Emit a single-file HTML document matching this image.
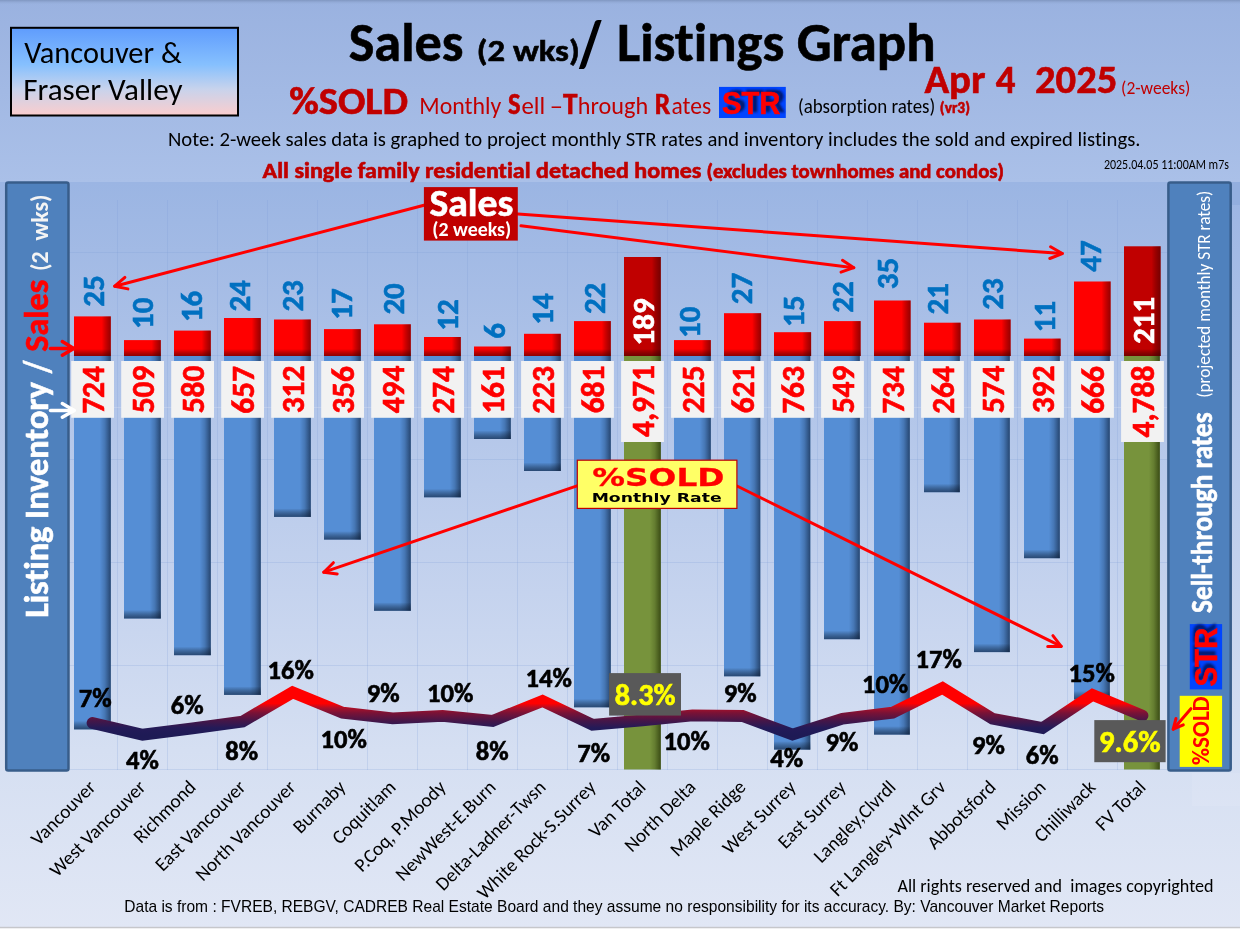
<!DOCTYPE html>
<html><head><meta charset="utf-8"><title>Sales / Listings Graph</title>
<style>
html,body{margin:0;padding:0;width:1240px;height:929px;overflow:hidden;background:#c4d2ee;}
svg{display:block;position:absolute;left:0;top:0;will-change:transform}
text{font-family:Carlito,'Liberation Sans',sans-serif;font-variant-ligatures:none;font-feature-settings:'liga' 0,'clig' 0;}
.ar{font-family:'Liberation Sans',Arial,sans-serif;}
.vd{font-family:'DejaVu Sans','Liberation Sans',sans-serif;}
</style></head><body>
<svg width="1240" height="929" viewBox="0 0 1240 929">
<defs>
<linearGradient id="bgTop" x1="0" y1="0" x2="0" y2="1"><stop offset="0" stop-color="#9ab2e0"/><stop offset="1" stop-color="#aac0e8"/></linearGradient>
<linearGradient id="bgPlot" x1="0" y1="0" x2="0" y2="1"><stop offset="0" stop-color="#9bb5e3"/><stop offset="0.55" stop-color="#c5d3ee"/><stop offset="0.76" stop-color="#d5dff2"/><stop offset="1" stop-color="#e1e7f5"/></linearGradient><linearGradient id="topEdge" x1="0" y1="0" x2="0" y2="1"><stop offset="0" stop-color="#7f96c0"/><stop offset="1" stop-color="#9ab2e0" stop-opacity="0"/></linearGradient>
<linearGradient id="vbox" x1="0" y1="0" x2="0" y2="1"><stop offset="0" stop-color="#5f9cfd"/><stop offset="0.42" stop-color="#86c0fe"/><stop offset="0.7" stop-color="#c8d3ec"/><stop offset="1" stop-color="#fbcdcd"/></linearGradient>
<linearGradient id="shR" x1="0" y1="0" x2="1" y2="0"><stop offset="0" stop-color="#0a1a33" stop-opacity="0"/><stop offset="0.45" stop-color="#0a1a33" stop-opacity="0.2"/><stop offset="1" stop-color="#0a1a33" stop-opacity="0.62"/></linearGradient>
<linearGradient id="shG" x1="0" y1="0" x2="1" y2="0"><stop offset="0" stop-color="#1a2600" stop-opacity="0"/><stop offset="0.45" stop-color="#1a2600" stop-opacity="0.2"/><stop offset="1" stop-color="#1a2600" stop-opacity="0.65"/></linearGradient>
<linearGradient id="shB" x1="0" y1="0" x2="0" y2="1"><stop offset="0" stop-color="#000" stop-opacity="0"/><stop offset="1" stop-color="#0a1a33" stop-opacity="0.6"/></linearGradient>
<linearGradient id="shRr" x1="0" y1="0" x2="1" y2="0"><stop offset="0" stop-color="#000" stop-opacity="0"/><stop offset="1" stop-color="#300000" stop-opacity="0.5"/></linearGradient>
<linearGradient id="shBr" x1="0" y1="0" x2="0" y2="1"><stop offset="0" stop-color="#000" stop-opacity="0"/><stop offset="1" stop-color="#300000" stop-opacity="0.55"/></linearGradient>
<linearGradient id="lineG" gradientUnits="userSpaceOnUse" x1="0" y1="688" x2="0" y2="735"><stop offset="0" stop-color="#ff0000"/><stop offset="0.33" stop-color="#ff0000"/><stop offset="0.43" stop-color="#a8102a"/><stop offset="0.53" stop-color="#7a1236"/><stop offset="0.7" stop-color="#451648"/><stop offset="0.85" stop-color="#231a58"/><stop offset="1" stop-color="#1e1a55"/></linearGradient>
<filter id="blur1" x="-20%" y="-20%" width="140%" height="140%"><feGaussianBlur stdDeviation="1"/></filter>
</defs>

<rect x="0" y="0" width="1240" height="182" fill="url(#bgTop)"/>
<rect x="0" y="182" width="1240" height="747" fill="url(#bgPlot)"/>
<rect x="0" y="0" width="1240" height="5" fill="url(#topEdge)"/>
<rect x="1232" y="182" width="8" height="23" fill="#93afdf"/>
<rect x="1192" y="773" width="48" height="33" fill="#ffffff" fill-opacity="0.08"/>
<rect x="0" y="926.8" width="1240" height="1.2" fill="#c6c7cb"/><rect x="0" y="928" width="1240" height="1" fill="#efeff1"/>
<g stroke="#7c9ad6" stroke-opacity="0.22" stroke-width="1"><line x1="117.5" y1="200" x2="117.5" y2="770"/><line x1="167.5" y1="200" x2="167.5" y2="770"/><line x1="217.5" y1="200" x2="217.5" y2="770"/><line x1="267.5" y1="200" x2="267.5" y2="770"/><line x1="317.5" y1="200" x2="317.5" y2="770"/><line x1="367.5" y1="200" x2="367.5" y2="770"/><line x1="417.5" y1="200" x2="417.5" y2="770"/><line x1="467.5" y1="200" x2="467.5" y2="770"/><line x1="517.5" y1="200" x2="517.5" y2="770"/><line x1="567.5" y1="200" x2="567.5" y2="770"/><line x1="617.5" y1="200" x2="617.5" y2="770"/><line x1="667.5" y1="200" x2="667.5" y2="770"/><line x1="717.5" y1="200" x2="717.5" y2="770"/><line x1="767.5" y1="200" x2="767.5" y2="770"/><line x1="817.5" y1="200" x2="817.5" y2="770"/><line x1="867.5" y1="200" x2="867.5" y2="770"/><line x1="917.5" y1="200" x2="917.5" y2="770"/><line x1="967.5" y1="200" x2="967.5" y2="770"/><line x1="1017.5" y1="200" x2="1017.5" y2="770"/><line x1="1067.5" y1="200" x2="1067.5" y2="770"/><line x1="1117.5" y1="200" x2="1117.5" y2="770"/><line x1="68" y1="252.5" x2="1168" y2="252.5"/><line x1="68" y1="355.5" x2="1168" y2="355.5"/><line x1="68" y1="459.5" x2="1168" y2="459.5"/><line x1="68" y1="562.5" x2="1168" y2="562.5"/><line x1="68" y1="665.5" x2="1168" y2="665.5"/><line x1="68" y1="769.5" x2="1168" y2="769.5"/></g>
<line x1="68" y1="407.5" x2="1168" y2="407.5" stroke="#dde6f6" stroke-opacity="0.3" stroke-width="1"/>
<rect x="74.0" y="356.0" width="36.8" height="373.4" fill="#558ed5"/><rect x="99.8" y="356.0" width="11" height="373.4" fill="url(#shR)"/><rect x="74.0" y="720.9" width="36.8" height="8.5" fill="url(#shB)"/>
<rect x="124.0" y="356.0" width="36.8" height="262.5" fill="#558ed5"/><rect x="149.8" y="356.0" width="11" height="262.5" fill="url(#shR)"/><rect x="124.0" y="610.0" width="36.8" height="8.5" fill="url(#shB)"/>
<rect x="174.0" y="356.0" width="36.8" height="299.2" fill="#558ed5"/><rect x="199.8" y="356.0" width="11" height="299.2" fill="url(#shR)"/><rect x="174.0" y="646.7" width="36.8" height="8.5" fill="url(#shB)"/>
<rect x="224.0" y="356.0" width="36.8" height="338.9" fill="#558ed5"/><rect x="249.8" y="356.0" width="11" height="338.9" fill="url(#shR)"/><rect x="224.0" y="686.4" width="36.8" height="8.5" fill="url(#shB)"/>
<rect x="274.0" y="356.0" width="36.8" height="160.9" fill="#558ed5"/><rect x="299.8" y="356.0" width="11" height="160.9" fill="url(#shR)"/><rect x="274.0" y="508.4" width="36.8" height="8.5" fill="url(#shB)"/>
<rect x="324.0" y="356.0" width="36.8" height="183.6" fill="#558ed5"/><rect x="349.8" y="356.0" width="11" height="183.6" fill="url(#shR)"/><rect x="324.0" y="531.1" width="36.8" height="8.5" fill="url(#shB)"/>
<rect x="374.0" y="356.0" width="36.8" height="254.8" fill="#558ed5"/><rect x="399.8" y="356.0" width="11" height="254.8" fill="url(#shR)"/><rect x="374.0" y="602.3" width="36.8" height="8.5" fill="url(#shB)"/>
<rect x="424.0" y="356.0" width="36.8" height="141.3" fill="#558ed5"/><rect x="449.8" y="356.0" width="11" height="141.3" fill="url(#shR)"/><rect x="424.0" y="488.8" width="36.8" height="8.5" fill="url(#shB)"/>
<rect x="474.0" y="356.0" width="36.8" height="83.0" fill="#558ed5"/><rect x="499.8" y="356.0" width="11" height="83.0" fill="url(#shR)"/><rect x="474.0" y="430.5" width="36.8" height="8.5" fill="url(#shB)"/>
<rect x="524.0" y="356.0" width="36.8" height="115.0" fill="#558ed5"/><rect x="549.8" y="356.0" width="11" height="115.0" fill="url(#shR)"/><rect x="524.0" y="462.5" width="36.8" height="8.5" fill="url(#shB)"/>
<rect x="574.0" y="356.0" width="36.8" height="351.3" fill="#558ed5"/><rect x="599.8" y="356.0" width="11" height="351.3" fill="url(#shR)"/><rect x="574.0" y="698.8" width="36.8" height="8.5" fill="url(#shB)"/>
<rect x="624.0" y="356.0" width="36.8" height="413.5" fill="#77933c"/><rect x="649.8" y="356.0" width="11" height="413.5" fill="url(#shG)"/>
<rect x="674.0" y="356.0" width="36.8" height="116.1" fill="#558ed5"/><rect x="699.8" y="356.0" width="11" height="116.1" fill="url(#shR)"/><rect x="674.0" y="463.6" width="36.8" height="8.5" fill="url(#shB)"/>
<rect x="724.0" y="356.0" width="36.3" height="320.3" fill="#558ed5"/><rect x="749.3" y="356.0" width="11" height="320.3" fill="url(#shR)"/><rect x="724.0" y="667.8" width="36.3" height="8.5" fill="url(#shB)"/>
<rect x="774.0" y="356.0" width="36.3" height="393.6" fill="#558ed5"/><rect x="799.3" y="356.0" width="11" height="393.6" fill="url(#shR)"/><rect x="774.0" y="741.1" width="36.3" height="8.5" fill="url(#shB)"/>
<rect x="824.0" y="356.0" width="35.8" height="283.2" fill="#558ed5"/><rect x="848.8" y="356.0" width="11" height="283.2" fill="url(#shR)"/><rect x="824.0" y="630.7" width="35.8" height="8.5" fill="url(#shB)"/>
<rect x="874.0" y="356.0" width="35.8" height="378.6" fill="#558ed5"/><rect x="898.8" y="356.0" width="11" height="378.6" fill="url(#shR)"/><rect x="874.0" y="726.1" width="35.8" height="8.5" fill="url(#shB)"/>
<rect x="924.0" y="356.0" width="35.8" height="136.2" fill="#558ed5"/><rect x="948.8" y="356.0" width="11" height="136.2" fill="url(#shR)"/><rect x="924.0" y="483.7" width="35.8" height="8.5" fill="url(#shB)"/>
<rect x="974.0" y="356.0" width="35.8" height="296.1" fill="#558ed5"/><rect x="998.8" y="356.0" width="11" height="296.1" fill="url(#shR)"/><rect x="974.0" y="643.6" width="35.8" height="8.5" fill="url(#shB)"/>
<rect x="1024.0" y="356.0" width="35.8" height="202.2" fill="#558ed5"/><rect x="1048.8" y="356.0" width="11" height="202.2" fill="url(#shR)"/><rect x="1024.0" y="549.7" width="35.8" height="8.5" fill="url(#shB)"/>
<rect x="1074.0" y="356.0" width="35.8" height="343.5" fill="#558ed5"/><rect x="1098.8" y="356.0" width="11" height="343.5" fill="url(#shR)"/><rect x="1074.0" y="691.0" width="35.8" height="8.5" fill="url(#shB)"/>
<rect x="1124.0" y="356.0" width="35.8" height="413.5" fill="#77933c"/><rect x="1148.8" y="356.0" width="11" height="413.5" fill="url(#shG)"/>
<rect x="74.0" y="316.4" width="36.8" height="39.6" fill="#ff0000"/><rect x="101.8" y="316.4" width="9" height="39.6" fill="url(#shRr)"/><rect x="74.0" y="349.0" width="36.8" height="7" fill="url(#shBr)"/>
<rect x="124.0" y="340.1" width="36.8" height="15.9" fill="#ff0000"/><rect x="151.8" y="340.1" width="9" height="15.9" fill="url(#shRr)"/><rect x="124.0" y="349.0" width="36.8" height="7" fill="url(#shBr)"/>
<rect x="174.0" y="330.6" width="36.8" height="25.4" fill="#ff0000"/><rect x="201.8" y="330.6" width="9" height="25.4" fill="url(#shRr)"/><rect x="174.0" y="349.0" width="36.8" height="7" fill="url(#shBr)"/>
<rect x="224.0" y="318.0" width="36.8" height="38.0" fill="#ff0000"/><rect x="251.8" y="318.0" width="9" height="38.0" fill="url(#shRr)"/><rect x="224.0" y="349.0" width="36.8" height="7" fill="url(#shBr)"/>
<rect x="274.0" y="319.5" width="36.8" height="36.5" fill="#ff0000"/><rect x="301.8" y="319.5" width="9" height="36.5" fill="url(#shRr)"/><rect x="274.0" y="349.0" width="36.8" height="7" fill="url(#shBr)"/>
<rect x="324.0" y="329.1" width="36.8" height="26.9" fill="#ff0000"/><rect x="351.8" y="329.1" width="9" height="26.9" fill="url(#shRr)"/><rect x="324.0" y="349.0" width="36.8" height="7" fill="url(#shBr)"/>
<rect x="374.0" y="324.3" width="36.8" height="31.7" fill="#ff0000"/><rect x="401.8" y="324.3" width="9" height="31.7" fill="url(#shRr)"/><rect x="374.0" y="349.0" width="36.8" height="7" fill="url(#shBr)"/>
<rect x="424.0" y="337.0" width="36.8" height="19.0" fill="#ff0000"/><rect x="451.8" y="337.0" width="9" height="19.0" fill="url(#shRr)"/><rect x="424.0" y="349.0" width="36.8" height="7" fill="url(#shBr)"/>
<rect x="474.0" y="346.5" width="36.8" height="9.5" fill="#ff0000"/><rect x="501.8" y="346.5" width="9" height="9.5" fill="url(#shRr)"/><rect x="474.0" y="349.0" width="36.8" height="7" fill="url(#shBr)"/>
<rect x="524.0" y="333.8" width="36.8" height="22.2" fill="#ff0000"/><rect x="551.8" y="333.8" width="9" height="22.2" fill="url(#shRr)"/><rect x="524.0" y="349.0" width="36.8" height="7" fill="url(#shBr)"/>
<rect x="574.0" y="321.1" width="36.8" height="34.9" fill="#ff0000"/><rect x="601.8" y="321.1" width="9" height="34.9" fill="url(#shRr)"/><rect x="574.0" y="349.0" width="36.8" height="7" fill="url(#shBr)"/>
<rect x="624.0" y="257.0" width="36.8" height="99.0" fill="#c00000"/><rect x="651.8" y="257.0" width="9" height="99.0" fill="url(#shRr)"/><rect x="624.0" y="349.0" width="36.8" height="7" fill="url(#shBr)"/>
<rect x="674.0" y="340.1" width="36.8" height="15.9" fill="#ff0000"/><rect x="701.8" y="340.1" width="9" height="15.9" fill="url(#shRr)"/><rect x="674.0" y="349.0" width="36.8" height="7" fill="url(#shBr)"/>
<rect x="724.0" y="313.2" width="37.1" height="42.8" fill="#ff0000"/><rect x="752.1" y="313.2" width="9" height="42.8" fill="url(#shRr)"/><rect x="724.0" y="349.0" width="37.1" height="7" fill="url(#shBr)"/>
<rect x="774.0" y="332.2" width="37.1" height="23.8" fill="#ff0000"/><rect x="802.1" y="332.2" width="9" height="23.8" fill="url(#shRr)"/><rect x="774.0" y="349.0" width="37.1" height="7" fill="url(#shBr)"/>
<rect x="824.0" y="321.1" width="36.6" height="34.9" fill="#ff0000"/><rect x="851.6" y="321.1" width="9" height="34.9" fill="url(#shRr)"/><rect x="824.0" y="349.0" width="36.6" height="7" fill="url(#shBr)"/>
<rect x="874.0" y="300.5" width="36.6" height="55.5" fill="#ff0000"/><rect x="901.6" y="300.5" width="9" height="55.5" fill="url(#shRr)"/><rect x="874.0" y="349.0" width="36.6" height="7" fill="url(#shBr)"/>
<rect x="924.0" y="322.7" width="36.6" height="33.3" fill="#ff0000"/><rect x="951.6" y="322.7" width="9" height="33.3" fill="url(#shRr)"/><rect x="924.0" y="349.0" width="36.6" height="7" fill="url(#shBr)"/>
<rect x="974.0" y="319.5" width="36.6" height="36.5" fill="#ff0000"/><rect x="1001.6" y="319.5" width="9" height="36.5" fill="url(#shRr)"/><rect x="974.0" y="349.0" width="36.6" height="7" fill="url(#shBr)"/>
<rect x="1024.0" y="338.6" width="36.6" height="17.4" fill="#ff0000"/><rect x="1051.6" y="338.6" width="9" height="17.4" fill="url(#shRr)"/><rect x="1024.0" y="349.0" width="36.6" height="7" fill="url(#shBr)"/>
<rect x="1074.0" y="281.5" width="36.6" height="74.5" fill="#ff0000"/><rect x="1101.6" y="281.5" width="9" height="74.5" fill="url(#shRr)"/><rect x="1074.0" y="349.0" width="36.6" height="7" fill="url(#shBr)"/>
<rect x="1124.0" y="246.3" width="36.6" height="109.7" fill="#c00000"/><rect x="1151.6" y="246.3" width="9" height="109.7" fill="url(#shRr)"/><rect x="1124.0" y="349.0" width="36.6" height="7" fill="url(#shBr)"/>
<rect x="71.2" y="361" width="42.8" height="56.8" fill="#f2f2f2"/>
<text transform="translate(103.75,413.87) rotate(-90)" font-size="31.5" font-weight="bold" stroke="#ff0000" stroke-width="0.6" fill="#ff0000" textLength="47.90" lengthAdjust="spacingAndGlyphs" xml:space="preserve">724</text>
<rect x="121.2" y="361" width="42.8" height="56.8" fill="#f2f2f2"/>
<text transform="translate(153.75,413.37) rotate(-90)" font-size="31.5" font-weight="bold" stroke="#ff0000" stroke-width="0.6" fill="#ff0000" textLength="47.90" lengthAdjust="spacingAndGlyphs" xml:space="preserve">509</text>
<rect x="171.2" y="361" width="42.8" height="56.8" fill="#f2f2f2"/>
<text transform="translate(203.75,413.37) rotate(-90)" font-size="31.5" font-weight="bold" stroke="#ff0000" stroke-width="0.6" fill="#ff0000" textLength="47.90" lengthAdjust="spacingAndGlyphs" xml:space="preserve">580</text>
<rect x="221.2" y="361" width="42.8" height="56.8" fill="#f2f2f2"/>
<text transform="translate(253.75,413.87) rotate(-90)" font-size="31.5" font-weight="bold" stroke="#ff0000" stroke-width="0.6" fill="#ff0000" textLength="47.90" lengthAdjust="spacingAndGlyphs" xml:space="preserve">657</text>
<rect x="271.2" y="361" width="42.8" height="56.8" fill="#f2f2f2"/>
<text transform="translate(303.75,413.37) rotate(-90)" font-size="31.5" font-weight="bold" stroke="#ff0000" stroke-width="0.6" fill="#ff0000" textLength="47.90" lengthAdjust="spacingAndGlyphs" xml:space="preserve">312</text>
<rect x="321.2" y="361" width="42.8" height="56.8" fill="#f2f2f2"/>
<text transform="translate(353.75,413.87) rotate(-90)" font-size="31.5" font-weight="bold" stroke="#ff0000" stroke-width="0.6" fill="#ff0000" textLength="47.90" lengthAdjust="spacingAndGlyphs" xml:space="preserve">356</text>
<rect x="371.2" y="361" width="42.8" height="56.8" fill="#f2f2f2"/>
<text transform="translate(403.75,413.37) rotate(-90)" font-size="31.5" font-weight="bold" stroke="#ff0000" stroke-width="0.6" fill="#ff0000" textLength="47.90" lengthAdjust="spacingAndGlyphs" xml:space="preserve">494</text>
<rect x="421.2" y="361" width="42.8" height="56.8" fill="#f2f2f2"/>
<text transform="translate(453.75,413.87) rotate(-90)" font-size="31.5" font-weight="bold" stroke="#ff0000" stroke-width="0.6" fill="#ff0000" textLength="47.90" lengthAdjust="spacingAndGlyphs" xml:space="preserve">274</text>
<rect x="471.2" y="361" width="42.8" height="56.8" fill="#f2f2f2"/>
<text transform="translate(503.75,413.87) rotate(-90)" font-size="31.5" font-weight="bold" stroke="#ff0000" stroke-width="0.6" fill="#ff0000" textLength="47.90" lengthAdjust="spacingAndGlyphs" xml:space="preserve">161</text>
<rect x="521.1" y="361" width="42.8" height="56.8" fill="#f2f2f2"/>
<text transform="translate(553.75,413.87) rotate(-90)" font-size="31.5" font-weight="bold" stroke="#ff0000" stroke-width="0.6" fill="#ff0000" textLength="47.90" lengthAdjust="spacingAndGlyphs" xml:space="preserve">223</text>
<rect x="571.1" y="361" width="42.8" height="56.8" fill="#f2f2f2"/>
<text transform="translate(603.75,413.37) rotate(-90)" font-size="31.5" font-weight="bold" stroke="#ff0000" stroke-width="0.6" fill="#ff0000" textLength="47.90" lengthAdjust="spacingAndGlyphs" xml:space="preserve">681</text>
<rect x="621.1" y="361" width="42.8" height="81" fill="#f2f2f2"/>
<text transform="translate(653.75,437.01) rotate(-90)" font-size="31.5" font-weight="bold" stroke="#ff0000" stroke-width="0.6" fill="#ff0000" textLength="71.98" lengthAdjust="spacingAndGlyphs" xml:space="preserve">4,971</text>
<rect x="671.1" y="361" width="42.8" height="56.8" fill="#f2f2f2"/>
<text transform="translate(703.75,413.37) rotate(-90)" font-size="31.5" font-weight="bold" stroke="#ff0000" stroke-width="0.6" fill="#ff0000" textLength="47.90" lengthAdjust="spacingAndGlyphs" xml:space="preserve">225</text>
<rect x="721.1" y="361" width="42.8" height="56.8" fill="#f2f2f2"/>
<text transform="translate(753.75,413.37) rotate(-90)" font-size="31.5" font-weight="bold" stroke="#ff0000" stroke-width="0.6" fill="#ff0000" textLength="47.90" lengthAdjust="spacingAndGlyphs" xml:space="preserve">621</text>
<rect x="771.1" y="361" width="42.8" height="56.8" fill="#f2f2f2"/>
<text transform="translate(803.75,413.87) rotate(-90)" font-size="31.5" font-weight="bold" stroke="#ff0000" stroke-width="0.6" fill="#ff0000" textLength="47.90" lengthAdjust="spacingAndGlyphs" xml:space="preserve">763</text>
<rect x="821.1" y="361" width="42.8" height="56.8" fill="#f2f2f2"/>
<text transform="translate(853.75,413.37) rotate(-90)" font-size="31.5" font-weight="bold" stroke="#ff0000" stroke-width="0.6" fill="#ff0000" textLength="47.90" lengthAdjust="spacingAndGlyphs" xml:space="preserve">549</text>
<rect x="871.1" y="361" width="42.8" height="56.8" fill="#f2f2f2"/>
<text transform="translate(903.75,413.87) rotate(-90)" font-size="31.5" font-weight="bold" stroke="#ff0000" stroke-width="0.6" fill="#ff0000" textLength="47.90" lengthAdjust="spacingAndGlyphs" xml:space="preserve">734</text>
<rect x="921.1" y="361" width="42.8" height="56.8" fill="#f2f2f2"/>
<text transform="translate(953.75,413.87) rotate(-90)" font-size="31.5" font-weight="bold" stroke="#ff0000" stroke-width="0.6" fill="#ff0000" textLength="47.90" lengthAdjust="spacingAndGlyphs" xml:space="preserve">264</text>
<rect x="971.1" y="361" width="42.8" height="56.8" fill="#f2f2f2"/>
<text transform="translate(1003.75,413.37) rotate(-90)" font-size="31.5" font-weight="bold" stroke="#ff0000" stroke-width="0.6" fill="#ff0000" textLength="47.90" lengthAdjust="spacingAndGlyphs" xml:space="preserve">574</text>
<rect x="1021.1" y="361" width="42.8" height="56.8" fill="#f2f2f2"/>
<text transform="translate(1053.75,413.37) rotate(-90)" font-size="31.5" font-weight="bold" stroke="#ff0000" stroke-width="0.6" fill="#ff0000" textLength="47.90" lengthAdjust="spacingAndGlyphs" xml:space="preserve">392</text>
<rect x="1071.1" y="361" width="42.8" height="56.8" fill="#f2f2f2"/>
<text transform="translate(1103.75,413.87) rotate(-90)" font-size="31.5" font-weight="bold" stroke="#ff0000" stroke-width="0.6" fill="#ff0000" textLength="47.90" lengthAdjust="spacingAndGlyphs" xml:space="preserve">666</text>
<rect x="1121.1" y="361" width="42.8" height="81" fill="#f2f2f2"/>
<text transform="translate(1153.75,437.51) rotate(-90)" font-size="31.5" font-weight="bold" stroke="#ff0000" stroke-width="0.6" fill="#ff0000" textLength="71.98" lengthAdjust="spacingAndGlyphs" xml:space="preserve">4,788</text>
<text transform="translate(103.70,306.80) rotate(-90)" font-size="31" font-weight="bold" stroke="#0070c0" stroke-width="0.6" fill="#0070c0" textLength="31.42" lengthAdjust="spacingAndGlyphs" xml:space="preserve">25</text>
<text transform="translate(153.30,328.90) rotate(-90)" font-size="31" font-weight="bold" stroke="#0070c0" stroke-width="0.6" fill="#0070c0" textLength="31.42" lengthAdjust="spacingAndGlyphs" xml:space="preserve">10</text>
<text transform="translate(201.70,322.10) rotate(-90)" font-size="31" font-weight="bold" stroke="#0070c0" stroke-width="0.6" fill="#0070c0" textLength="31.42" lengthAdjust="spacingAndGlyphs" xml:space="preserve">16</text>
<text transform="translate(250.10,311.60) rotate(-90)" font-size="31" font-weight="bold" stroke="#0070c0" stroke-width="0.6" fill="#0070c0" textLength="31.42" lengthAdjust="spacingAndGlyphs" xml:space="preserve">24</text>
<text transform="translate(303.30,311.60) rotate(-90)" font-size="31" font-weight="bold" stroke="#0070c0" stroke-width="0.6" fill="#0070c0" textLength="31.42" lengthAdjust="spacingAndGlyphs" xml:space="preserve">23</text>
<text transform="translate(351.70,319.70) rotate(-90)" font-size="31" font-weight="bold" stroke="#0070c0" stroke-width="0.6" fill="#0070c0" textLength="31.42" lengthAdjust="spacingAndGlyphs" xml:space="preserve">17</text>
<text transform="translate(403.80,314.60) rotate(-90)" font-size="31" font-weight="bold" stroke="#0070c0" stroke-width="0.6" fill="#0070c0" textLength="31.42" lengthAdjust="spacingAndGlyphs" xml:space="preserve">20</text>
<text transform="translate(457.80,330.80) rotate(-90)" font-size="31" font-weight="bold" stroke="#0070c0" stroke-width="0.6" fill="#0070c0" textLength="31.42" lengthAdjust="spacingAndGlyphs" xml:space="preserve">12</text>
<text transform="translate(505.00,338.70) rotate(-90)" font-size="31" font-weight="bold" stroke="#0070c0" stroke-width="0.6" fill="#0070c0" textLength="15.71" lengthAdjust="spacingAndGlyphs" xml:space="preserve">6</text>
<text transform="translate(552.90,324.70) rotate(-90)" font-size="31" font-weight="bold" stroke="#0070c0" stroke-width="0.6" fill="#0070c0" textLength="31.42" lengthAdjust="spacingAndGlyphs" xml:space="preserve">14</text>
<text transform="translate(604.90,314.10) rotate(-90)" font-size="31" font-weight="bold" stroke="#0070c0" stroke-width="0.6" fill="#0070c0" textLength="31.42" lengthAdjust="spacingAndGlyphs" xml:space="preserve">22</text>
<text transform="translate(653.80,345.40) rotate(-90)" font-size="31" font-weight="bold" stroke="#ffffff" stroke-width="0.6" fill="#ffffff" textLength="47.14" lengthAdjust="spacingAndGlyphs" xml:space="preserve">189</text>
<text transform="translate(699.70,337.90) rotate(-90)" font-size="31" font-weight="bold" stroke="#0070c0" stroke-width="0.6" fill="#0070c0" textLength="31.42" lengthAdjust="spacingAndGlyphs" xml:space="preserve">10</text>
<text transform="translate(751.70,304.20) rotate(-90)" font-size="31" font-weight="bold" stroke="#0070c0" stroke-width="0.6" fill="#0070c0" textLength="31.42" lengthAdjust="spacingAndGlyphs" xml:space="preserve">27</text>
<text transform="translate(804.20,327.00) rotate(-90)" font-size="31" font-weight="bold" stroke="#0070c0" stroke-width="0.6" fill="#0070c0" textLength="31.42" lengthAdjust="spacingAndGlyphs" xml:space="preserve">15</text>
<text transform="translate(852.60,312.70) rotate(-90)" font-size="31" font-weight="bold" stroke="#0070c0" stroke-width="0.6" fill="#0070c0" textLength="31.42" lengthAdjust="spacingAndGlyphs" xml:space="preserve">22</text>
<text transform="translate(898.10,289.20) rotate(-90)" font-size="31" font-weight="bold" stroke="#0070c0" stroke-width="0.6" fill="#0070c0" textLength="31.42" lengthAdjust="spacingAndGlyphs" xml:space="preserve">35</text>
<text transform="translate(948.20,314.40) rotate(-90)" font-size="31" font-weight="bold" stroke="#0070c0" stroke-width="0.6" fill="#0070c0" textLength="31.42" lengthAdjust="spacingAndGlyphs" xml:space="preserve">21</text>
<text transform="translate(1003.20,309.80) rotate(-90)" font-size="31" font-weight="bold" stroke="#0070c0" stroke-width="0.6" fill="#0070c0" textLength="31.42" lengthAdjust="spacingAndGlyphs" xml:space="preserve">23</text>
<text transform="translate(1054.80,332.20) rotate(-90)" font-size="31" font-weight="bold" stroke="#0070c0" stroke-width="0.6" fill="#0070c0" textLength="31.42" lengthAdjust="spacingAndGlyphs" xml:space="preserve">11</text>
<text transform="translate(1101.20,271.70) rotate(-90)" font-size="31" font-weight="bold" stroke="#0070c0" stroke-width="0.6" fill="#0070c0" textLength="31.42" lengthAdjust="spacingAndGlyphs" xml:space="preserve">47</text>
<text transform="translate(1154.00,343.90) rotate(-90)" font-size="31" font-weight="bold" stroke="#ffffff" stroke-width="0.6" fill="#ffffff" textLength="47.14" lengthAdjust="spacingAndGlyphs" xml:space="preserve">211</text>
<polyline points="92.5,723.0 142.6,734.7 192.6,728.4 242.6,721.5 292.6,692.4 342.6,712.7 392.6,718.4 442.6,715.8 492.6,720.9 542.5,701.0 592.5,724.8 642.5,720.3 692.5,715.3 742.5,716.0 792.5,734.6 842.5,718.7 892.5,712.7 942.5,687.9 992.5,718.7 1042.5,728.1 1092.5,694.9 1142.5,715.6" fill="none" stroke="url(#lineG)" stroke-width="11.8" stroke-linejoin="miter" stroke-linecap="round"/>
<text x="78.86" y="706.90" font-size="26.6" font-weight="bold" stroke="#000" stroke-width="0.6" fill="#000" textLength="32.87" lengthAdjust="spacingAndGlyphs" xml:space="preserve">7%</text>
<text x="126.06" y="769.40" font-size="26.6" font-weight="bold" stroke="#000" stroke-width="0.6" fill="#000" textLength="32.87" lengthAdjust="spacingAndGlyphs" xml:space="preserve">4%</text>
<text x="170.66" y="714.20" font-size="26.6" font-weight="bold" stroke="#000" stroke-width="0.6" fill="#000" textLength="32.87" lengthAdjust="spacingAndGlyphs" xml:space="preserve">6%</text>
<text x="225.36" y="760.40" font-size="26.6" font-weight="bold" stroke="#000" stroke-width="0.6" fill="#000" textLength="32.87" lengthAdjust="spacingAndGlyphs" xml:space="preserve">8%</text>
<text x="267.52" y="679.20" font-size="26.6" font-weight="bold" stroke="#000" stroke-width="0.6" fill="#000" textLength="46.34" lengthAdjust="spacingAndGlyphs" xml:space="preserve">16%</text>
<text x="320.52" y="748.40" font-size="26.6" font-weight="bold" stroke="#000" stroke-width="0.6" fill="#000" textLength="46.34" lengthAdjust="spacingAndGlyphs" xml:space="preserve">10%</text>
<text x="366.86" y="702.30" font-size="26.6" font-weight="bold" stroke="#000" stroke-width="0.6" fill="#000" textLength="32.87" lengthAdjust="spacingAndGlyphs" xml:space="preserve">9%</text>
<text x="427.02" y="702.30" font-size="26.6" font-weight="bold" stroke="#000" stroke-width="0.6" fill="#000" textLength="46.34" lengthAdjust="spacingAndGlyphs" xml:space="preserve">10%</text>
<text x="475.66" y="760.40" font-size="26.6" font-weight="bold" stroke="#000" stroke-width="0.6" fill="#000" textLength="32.87" lengthAdjust="spacingAndGlyphs" xml:space="preserve">8%</text>
<text x="525.52" y="686.50" font-size="26.6" font-weight="bold" stroke="#000" stroke-width="0.6" fill="#000" textLength="46.34" lengthAdjust="spacingAndGlyphs" xml:space="preserve">14%</text>
<text x="577.26" y="762.00" font-size="26.6" font-weight="bold" stroke="#000" stroke-width="0.6" fill="#000" textLength="32.87" lengthAdjust="spacingAndGlyphs" xml:space="preserve">7%</text>
<text x="663.52" y="749.90" font-size="26.6" font-weight="bold" stroke="#000" stroke-width="0.6" fill="#000" textLength="46.34" lengthAdjust="spacingAndGlyphs" xml:space="preserve">10%</text>
<text x="723.76" y="701.90" font-size="26.6" font-weight="bold" stroke="#000" stroke-width="0.6" fill="#000" textLength="32.87" lengthAdjust="spacingAndGlyphs" xml:space="preserve">9%</text>
<text x="770.16" y="767.30" font-size="26.6" font-weight="bold" stroke="#000" stroke-width="0.6" fill="#000" textLength="32.87" lengthAdjust="spacingAndGlyphs" xml:space="preserve">4%</text>
<text x="825.56" y="751.00" font-size="26.6" font-weight="bold" stroke="#000" stroke-width="0.6" fill="#000" textLength="32.87" lengthAdjust="spacingAndGlyphs" xml:space="preserve">9%</text>
<text x="861.92" y="692.90" font-size="26.6" font-weight="bold" stroke="#000" stroke-width="0.6" fill="#000" textLength="46.34" lengthAdjust="spacingAndGlyphs" xml:space="preserve">10%</text>
<text x="915.52" y="668.20" font-size="26.6" font-weight="bold" stroke="#000" stroke-width="0.6" fill="#000" textLength="46.34" lengthAdjust="spacingAndGlyphs" xml:space="preserve">17%</text>
<text x="971.96" y="754.10" font-size="26.6" font-weight="bold" stroke="#000" stroke-width="0.6" fill="#000" textLength="32.87" lengthAdjust="spacingAndGlyphs" xml:space="preserve">9%</text>
<text x="1025.66" y="763.60" font-size="26.6" font-weight="bold" stroke="#000" stroke-width="0.6" fill="#000" textLength="32.87" lengthAdjust="spacingAndGlyphs" xml:space="preserve">6%</text>
<text x="1068.52" y="682.20" font-size="26.6" font-weight="bold" stroke="#000" stroke-width="0.6" fill="#000" textLength="46.34" lengthAdjust="spacingAndGlyphs" xml:space="preserve">15%</text>
<rect x="609.1" y="673.1" width="71.9" height="42.5" fill="#595959"/>
<text x="614.80" y="704.90" font-size="30" font-weight="bold" stroke="#ffff00" stroke-width="0.6" fill="#ffff00" textLength="60.67" lengthAdjust="spacingAndGlyphs" xml:space="preserve">8.3%</text>
<rect x="1094.3" y="720.1" width="71.3" height="42.1" fill="#595959"/>
<text x="1098.98" y="752.20" font-size="30" font-weight="bold" stroke="#ffff00" stroke-width="0.6" fill="#ffff00" textLength="61.59" lengthAdjust="spacingAndGlyphs" xml:space="preserve">9.6%</text>
<rect x="6.2" y="182.4" width="62.3" height="588.2" rx="2" fill="#4f81bd" stroke="#385d8a" stroke-width="2.5"/>
<rect x="1168.4" y="182.4" width="62.3" height="588.2" rx="2" fill="#4f81bd" stroke="#385d8a" stroke-width="2.5"/>
<text transform="translate(48.30,617.81) rotate(-90)" font-size="34" font-weight="bold" stroke="#ffffff" stroke-width="0.6" fill="#ffffff" textLength="235.71" lengthAdjust="spacingAndGlyphs" xml:space="preserve">Listing Inventory</text>
<text transform="translate(49.50,373.23) rotate(-90)" font-size="38" font-weight="bold" stroke="#ffffff" stroke-width="0.6" fill="#ffffff" textLength="12.52" lengthAdjust="spacingAndGlyphs" xml:space="preserve">/</text>
<text transform="translate(48.30,351.70) rotate(-90)" font-size="34" font-weight="bold" stroke="#ff0000" stroke-width="0.6" fill="#ff0000" textLength="71.96" lengthAdjust="spacingAndGlyphs" xml:space="preserve">Sales</text>
<text transform="translate(48.30,270.96) rotate(-90)" font-size="25" font-weight="bold" fill="#f4f4f4" textLength="76.51" lengthAdjust="spacingAndGlyphs" xml:space="preserve">(2  wks)</text>
<text transform="translate(1211.60,612.90) rotate(-90)" font-size="29.5" font-weight="bold" stroke="#ffffff" stroke-width="0.6" fill="#ffffff" textLength="200.39" lengthAdjust="spacingAndGlyphs" xml:space="preserve">Sell-through rates</text>
<text transform="translate(1210.00,397.73) rotate(-90)" font-size="18.5" fill="#ffffff" textLength="206.99" lengthAdjust="spacingAndGlyphs" xml:space="preserve">(projected monthly STR rates)</text>
<rect x="1189.8" y="624.1" width="32.3" height="65.3" fill="#0045ff"/>
<text class="ar" transform="translate(1215.40,682.10) rotate(-90)" font-size="31" font-weight="bold" stroke="#001a70" stroke-width="0.6" fill="#001a70" textLength="58.97" lengthAdjust="spacingAndGlyphs" xml:space="preserve" filter="url(#blur1)">STR</text>
<text class="ar" transform="translate(1217.40,686.60) rotate(-90)" font-size="31" font-weight="bold" stroke="#ff0000" stroke-width="0.6" fill="#ff0000" textLength="58.97" lengthAdjust="spacingAndGlyphs" xml:space="preserve">STR</text>
<rect x="1179.7" y="695.8" width="42.4" height="71.1" fill="#ffff00"/>
<text transform="translate(1208.80,765.00) rotate(-90)" font-size="24.5" font-weight="bold" fill="#ff0000" textLength="68.52" lengthAdjust="spacingAndGlyphs" xml:space="preserve">%SOLD</text>
<g stroke="#ff0000" stroke-width="3.0" fill="none" stroke-linecap="round" stroke-linejoin="round"><line x1="1190.9" y1="708.7" x2="1173.2" y2="729.2"/><polyline points="1183.3,724.8 1173.2,729.2 1176.0,718.5"/></g>
<g fill="none" stroke-width="3.5" stroke-linecap="round" stroke-linejoin="round"><g stroke="#ff0000"><line x1="50.5" y1="348.4" x2="73.5" y2="348.4"/><polyline points="62.3,341.6 73.8,348.4 62.3,355.2"/></g><g stroke="#ffffff"><line x1="50.5" y1="410.4" x2="74" y2="410.4"/><polyline points="62.3,403.6 74.2,410.4 62.3,417.2"/></g></g>
<rect x="11" y="27.8" width="227" height="87.7" fill="url(#vbox)" stroke="#000" stroke-width="2"/>
<text x="24.20" y="62.90" font-size="31" fill="#000" textLength="157.46" lengthAdjust="spacingAndGlyphs" xml:space="preserve">Vancouver &amp;</text>
<text x="23.19" y="99.80" font-size="31" fill="#000" textLength="159.34" lengthAdjust="spacingAndGlyphs" xml:space="preserve">Fraser Valley</text>
<text x="348.71" y="61.00" font-size="55" font-weight="bold" stroke="#000" stroke-width="0.6" fill="#000" textLength="114.82" lengthAdjust="spacingAndGlyphs" xml:space="preserve">Sales</text>
<text x="476.78" y="61.00" font-size="31" font-weight="bold" stroke="#000" stroke-width="0.6" fill="#000" textLength="102.97" lengthAdjust="spacingAndGlyphs" xml:space="preserve">(2 wks)</text>
<text x="580.43" y="64.60" font-size="62" font-weight="bold" stroke="#000" stroke-width="2.2" fill="#000" textLength="19.48" lengthAdjust="spacingAndGlyphs" xml:space="preserve">/</text>
<text x="617.01" y="61.00" font-size="55" font-weight="bold" stroke="#000" stroke-width="0.6" fill="#000" textLength="318.60" lengthAdjust="spacingAndGlyphs" xml:space="preserve">Listings Graph</text>
<text x="289.20" y="113.80" font-size="39" font-weight="bold" stroke="#c00000" stroke-width="0.6" fill="#c00000" textLength="118.91" lengthAdjust="spacingAndGlyphs" xml:space="preserve">%SOLD</text>
<text x="419.29" y="113.80" font-size="23.5" fill="#c00000" textLength="81.95" lengthAdjust="spacingAndGlyphs" xml:space="preserve">Monthly</text>
<text x="508.00" y="113.80" font-size="30" font-weight="bold" stroke="#c00000" stroke-width="0.6" fill="#c00000" textLength="12.56" lengthAdjust="spacingAndGlyphs" xml:space="preserve">S</text>
<text x="521.50" y="113.80" font-size="23.5" fill="#c00000" textLength="23.67" lengthAdjust="spacingAndGlyphs" xml:space="preserve">ell</text>
<text x="549.77" y="113.80" font-size="23.5" fill="#c00000" textLength="13.23" lengthAdjust="spacingAndGlyphs" xml:space="preserve">–</text>
<text x="562.90" y="113.80" font-size="31" font-weight="bold" stroke="#c00000" stroke-width="0.6" fill="#c00000" textLength="14.49" lengthAdjust="spacingAndGlyphs" xml:space="preserve">T</text>
<text x="577.87" y="113.80" font-size="23.5" fill="#c00000" textLength="70.32" lengthAdjust="spacingAndGlyphs" xml:space="preserve">hrough</text>
<text x="654.81" y="113.80" font-size="31" font-weight="bold" stroke="#c00000" stroke-width="0.6" fill="#c00000" textLength="15.50" lengthAdjust="spacingAndGlyphs" xml:space="preserve">R</text>
<text x="671.50" y="113.80" font-size="23.5" fill="#c00000" textLength="39.59" lengthAdjust="spacingAndGlyphs" xml:space="preserve">ates</text>
<rect x="719" y="86.9" width="66.8" height="31.1" fill="#0045ff"/>
<text class="ar" x="726.50" y="111.60" font-size="31" font-weight="bold" stroke="#001a70" stroke-width="0.6" fill="#001a70" textLength="58.36" lengthAdjust="spacingAndGlyphs" xml:space="preserve" filter="url(#blur1)">STR</text>
<text class="ar" x="722.00" y="113.60" font-size="31" font-weight="bold" stroke="#ff0000" stroke-width="0.6" fill="#ff0000" textLength="58.36" lengthAdjust="spacingAndGlyphs" xml:space="preserve">STR</text>
<text x="797.93" y="113.40" font-size="19.5" fill="#000" textLength="137.36" lengthAdjust="spacingAndGlyphs" xml:space="preserve">(absorption rates)</text>
<text x="939.87" y="113.40" font-size="16.5" font-weight="bold" stroke="#c00000" stroke-width="0.6" fill="#c00000" textLength="30.06" lengthAdjust="spacingAndGlyphs" xml:space="preserve">(vr3)</text>
<text x="924.40" y="92.90" font-size="40" font-weight="bold" stroke="#c00000" stroke-width="0.6" fill="#c00000" textLength="61.02" lengthAdjust="spacingAndGlyphs" xml:space="preserve">Apr</text>
<text x="995.80" y="92.90" font-size="40" font-weight="bold" stroke="#c00000" stroke-width="0.6" fill="#c00000" textLength="19.67" lengthAdjust="spacingAndGlyphs" xml:space="preserve">4</text>
<text x="1034.99" y="92.90" font-size="40" font-weight="bold" stroke="#c00000" stroke-width="0.6" fill="#c00000" textLength="82.31" lengthAdjust="spacingAndGlyphs" xml:space="preserve">2025</text>
<text x="1121.08" y="93.50" font-size="19" fill="#c00000" textLength="69.22" lengthAdjust="spacingAndGlyphs" xml:space="preserve">(2-weeks)</text>
<text x="167.97" y="145.80" font-size="20" fill="#000" textLength="972.52" lengthAdjust="spacingAndGlyphs" xml:space="preserve">Note: 2-week sales data is graphed to project monthly STR rates and inventory includes the sold and expired listings.</text>
<text x="262.60" y="178.00" font-size="22.4" font-weight="bold" stroke="#c00000" stroke-width="0.6" fill="#c00000" textLength="438.83" lengthAdjust="spacingAndGlyphs" xml:space="preserve">All single family residential detached homes</text>
<text x="706.44" y="178.00" font-size="19.5" font-weight="bold" stroke="#c00000" stroke-width="0.6" fill="#c00000" textLength="297.61" lengthAdjust="spacingAndGlyphs" xml:space="preserve">(excludes townhomes and condos)</text>
<text x="1103.90" y="169.40" font-size="13.5" fill="#000" textLength="125.05" lengthAdjust="spacingAndGlyphs" xml:space="preserve">2025.04.05 11:00AM m7s</text>
<g stroke="#ff0000" stroke-width="3.0" fill="none" stroke-linecap="round" stroke-linejoin="round"><line x1="424.0" y1="205.2" x2="114.7" y2="286.2"/><polyline points="127.9,288.9 114.7,286.2 124.9,277.4"/></g>
<g stroke="#ff0000" stroke-width="3.0" fill="none" stroke-linecap="round" stroke-linejoin="round"><line x1="518.0" y1="214.0" x2="1062.3" y2="253.5"/><polyline points="1050.6,246.7 1062.3,253.5 1049.8,258.5"/></g>
<g stroke="#ff0000" stroke-width="3.0" fill="none" stroke-linecap="round" stroke-linejoin="round"><line x1="521.0" y1="225.8" x2="853.8" y2="267.7"/><polyline points="842.5,260.3 853.8,267.7 841.0,272.1"/></g>
<rect x="423.9" y="187.1" width="93.9" height="53.5" fill="#c00000"/>
<text x="429.40" y="215.50" font-size="39" font-weight="bold" stroke="#fff" stroke-width="0.6" fill="#fff" textLength="84.07" lengthAdjust="spacingAndGlyphs" xml:space="preserve">Sales</text>
<text x="432.31" y="236.10" font-size="20" font-weight="bold" fill="#fff" textLength="78.92" lengthAdjust="spacingAndGlyphs" xml:space="preserve">(2 weeks)</text>
<g stroke="#ff0000" stroke-width="3.0" fill="none" stroke-linecap="round" stroke-linejoin="round"><line x1="577.0" y1="485.8" x2="323.8" y2="572.2"/><polyline points="337.2,573.9 323.8,572.2 333.4,562.7"/></g>
<g stroke="#ff0000" stroke-width="3.0" fill="none" stroke-linecap="round" stroke-linejoin="round"><line x1="737.0" y1="486.0" x2="1061.2" y2="646.4"/><polyline points="1052.9,635.7 1061.2,646.4 1047.7,646.4"/></g>
<rect x="577.3" y="460.2" width="159.6" height="48.2" fill="#ffff66" stroke="#c00000" stroke-width="1.2"/>
<text class="vd" x="592.30" y="485.50" font-size="25.5" font-weight="bold" stroke="#ff0000" stroke-width="0.3" fill="#ff0000" textLength="132.10" lengthAdjust="spacingAndGlyphs" xml:space="preserve">%SOLD</text>
<text class="vd" x="591.65" y="501.90" font-size="12.8" font-weight="bold" fill="#000" textLength="130.02" lengthAdjust="spacingAndGlyphs" xml:space="preserve">Monthly Rate</text>
<text transform="translate(96.8,788.3) rotate(-45)" text-anchor="end" font-size="19.3" fill="#000" textLength="82.36" lengthAdjust="spacingAndGlyphs">Vancouver</text>
<text transform="translate(146.8,788.3) rotate(-45)" text-anchor="end" font-size="19.3" fill="#000" textLength="126.54" lengthAdjust="spacingAndGlyphs">West Vancouver</text>
<text transform="translate(196.8,788.3) rotate(-45)" text-anchor="end" font-size="19.3" fill="#000" textLength="79.01" lengthAdjust="spacingAndGlyphs">Richmond</text>
<text transform="translate(246.8,788.3) rotate(-45)" text-anchor="end" font-size="19.3" fill="#000" textLength="118.83" lengthAdjust="spacingAndGlyphs">East Vancouver</text>
<text transform="translate(296.8,788.3) rotate(-45)" text-anchor="end" font-size="19.3" fill="#000" textLength="132.64" lengthAdjust="spacingAndGlyphs">North Vancouver</text>
<text transform="translate(346.8,788.3) rotate(-45)" text-anchor="end" font-size="19.3" fill="#000" textLength="65.47" lengthAdjust="spacingAndGlyphs">Burnaby</text>
<text transform="translate(396.8,788.3) rotate(-45)" text-anchor="end" font-size="19.3" fill="#000" textLength="80.66" lengthAdjust="spacingAndGlyphs">Coquitlam</text>
<text transform="translate(446.8,788.3) rotate(-45)" text-anchor="end" font-size="19.3" fill="#000" textLength="119.81" lengthAdjust="spacingAndGlyphs">P.Coq, P.Moody</text>
<text transform="translate(496.8,788.3) rotate(-45)" text-anchor="end" font-size="19.3" fill="#000" textLength="132.61" lengthAdjust="spacingAndGlyphs">NewWest-E.Burn</text>
<text transform="translate(546.8,788.3) rotate(-45)" text-anchor="end" font-size="19.3" fill="#000" textLength="146.37" lengthAdjust="spacingAndGlyphs">Delta-Ladner-Twsn</text>
<text transform="translate(596.8,788.3) rotate(-45)" text-anchor="end" font-size="19.3" fill="#000" textLength="158.35" lengthAdjust="spacingAndGlyphs">White Rock-S.Surrey</text>
<text transform="translate(646.8,788.3) rotate(-45)" text-anchor="end" font-size="19.3" fill="#000" textLength="71.32" lengthAdjust="spacingAndGlyphs">Van Total</text>
<text transform="translate(696.8,788.3) rotate(-45)" text-anchor="end" font-size="19.3" fill="#000" textLength="91.62" lengthAdjust="spacingAndGlyphs">North Delta</text>
<text transform="translate(746.8,788.3) rotate(-45)" text-anchor="end" font-size="19.3" fill="#000" textLength="97.76" lengthAdjust="spacingAndGlyphs">Maple Ridge</text>
<text transform="translate(796.8,788.3) rotate(-45)" text-anchor="end" font-size="19.3" fill="#000" textLength="94.56" lengthAdjust="spacingAndGlyphs">West Surrey</text>
<text transform="translate(846.8,788.3) rotate(-45)" text-anchor="end" font-size="19.3" fill="#000" textLength="86.85" lengthAdjust="spacingAndGlyphs">East Surrey</text>
<text transform="translate(896.8,788.3) rotate(-45)" text-anchor="end" font-size="19.3" fill="#000" textLength="107.03" lengthAdjust="spacingAndGlyphs">Langley,Clvrdl</text>
<text transform="translate(946.8,788.3) rotate(-45)" text-anchor="end" font-size="19.3" fill="#000" textLength="154.45" lengthAdjust="spacingAndGlyphs">Ft Langley-Wlnt Grv</text>
<text transform="translate(996.8,788.3) rotate(-45)" text-anchor="end" font-size="19.3" fill="#000" textLength="87.64" lengthAdjust="spacingAndGlyphs">Abbotsford</text>
<text transform="translate(1046.8,788.3) rotate(-45)" text-anchor="end" font-size="19.3" fill="#000" textLength="60.72" lengthAdjust="spacingAndGlyphs">Mission</text>
<text transform="translate(1096.8,788.3) rotate(-45)" text-anchor="end" font-size="19.3" fill="#000" textLength="77.83" lengthAdjust="spacingAndGlyphs">Chilliwack</text>
<text transform="translate(1146.8,788.3) rotate(-45)" text-anchor="end" font-size="19.3" fill="#000" textLength="61.89" lengthAdjust="spacingAndGlyphs">FV Total</text>
<text x="897.40" y="892.30" font-size="18" fill="#000" textLength="316.26" lengthAdjust="spacingAndGlyphs" xml:space="preserve">All rights reserved and  images copyrighted</text>
<text class="ar" x="124.25" y="911.80" font-size="16.4" fill="#000" textLength="979.83" lengthAdjust="spacingAndGlyphs" xml:space="preserve">Data is from : FVREB, REBGV, CADREB Real Estate Board and they assume no responsibility for its accuracy. By: Vancouver Market Reports</text>
</svg></body></html>
